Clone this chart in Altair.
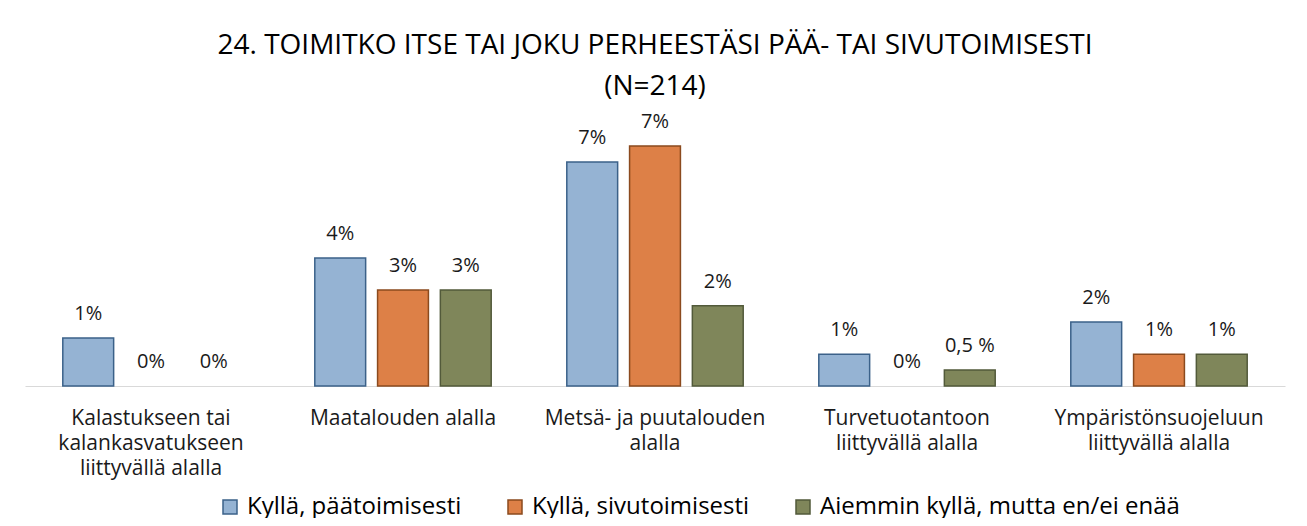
import altair as alt
import pandas as pd

categories = [
    "Kalastukseen tai|kalankasvatukseen|liittyvällä alalla",
    "Maatalouden alalla",
    "Metsä- ja puutalouden|alalla",
    "Turvetuotantoon|liittyvällä alalla",
    "Ympäristönsuojeluun|liittyvällä alalla",
]
series = ["Kyllä, päätoimisesti", "Kyllä, sivutoimisesti", "Aiemmin kyllä, mutta en/ei enää"]

paatoim = [1.40, 3.74, 6.54, 0.93, 1.87]
sivutoim = [0.0, 2.80, 7.01, 0.0, 0.93]
aiemmin = [0.0, 2.80, 2.34, 0.47, 0.93]

paatoim_lbl = ["1%", "4%", "7%", "1%", "2%"]
sivutoim_lbl = ["0%", "3%", "7%", "0%", "1%"]
aiemmin_lbl = ["0%", "3%", "2%", "0,5 %", "1%"]

fills = ["#95B3D3", "#DD8047", "#7F865A"]
strokes = ["#3B6189", "#8B4A1E", "#525A3A"]

rows = []
for s, vals, lbls in zip(series, [paatoim, sivutoim, aiemmin], [paatoim_lbl, sivutoim_lbl, aiemmin_lbl]):
    for c, v, l in zip(categories, vals, lbls):
        rows.append({"kategoria": c, "sarja": s, "arvo": v, "teksti": l})
df = pd.DataFrame(rows)

FONT = "Open Sans"

x_enc = alt.X("kategoria:N", sort=categories,
              scale=alt.Scale(paddingInner=0.3, paddingOuter=0.15),
              axis=alt.Axis(title=None, labelAngle=0, ticks=False,
                            domainColor="#D9D9D9", domainWidth=1,
                            labelFont=FONT, labelFontSize=21, labelColor="#1a1a1a",
                            labelLineHeight=25, labelPadding=21, labelLimit=0,
                            labelExpr="split(datum.label, '|')"))
xo_enc = alt.XOffset("sarja:N", sort=series,
                     scale=alt.Scale(paddingInner=0.19, paddingOuter=0))
y_enc = alt.Y("arvo:Q", scale=alt.Scale(domain=[0, 8], nice=False), axis=None)

bars = alt.Chart(df).transform_filter("datum.arvo > 0").mark_bar(strokeWidth=1.5).encode(
    x=x_enc, xOffset=xo_enc, y=y_enc,
    fill=alt.Fill("sarja:N", sort=series, title=None,
                  scale=alt.Scale(domain=series, range=fills),
                  legend=alt.Legend(orient="none", direction="horizontal",
                                    legendX=193, legendY=383)),
    stroke=alt.Stroke("sarja:N", sort=series, title=None,
                      scale=alt.Scale(domain=series, range=strokes)),
)

labels = alt.Chart(df).mark_text(font=FONT, fontSize=20, color="#1a1a1a",
                                 baseline="middle", dy=-24).encode(
    x=x_enc, xOffset=xo_enc, y=y_enc, text="teksti:N")

chart = alt.layer(bars, labels).properties(
    width=1260, height=274,
    autosize=alt.AutoSizeParams(type="none"),
    padding={"left": 17, "top": 104, "right": 14, "bottom": 132},
    title=alt.Title(["24. TOIMITKO ITSE TAI JOKU PERHEESTÄSI PÄÄ- TAI SIVUTOIMISESTI", "(N=214)"],
                    font=FONT, fontSize=28, fontWeight="normal", color="#000000",
                    lineHeight=41, offset=11, anchor="middle"),
).configure(background="white").configure_view(stroke=None).configure_legend(
    symbolType="square", symbolSize=196, symbolStrokeWidth=1.5,
    labelFont=FONT, labelFontSize=24, labelColor="#000000", labelOffset=5,
    columnPadding=41, labelLimit=0,
)

chart.save("out.html", embed_options={"renderer": "svg", "actions": False})
